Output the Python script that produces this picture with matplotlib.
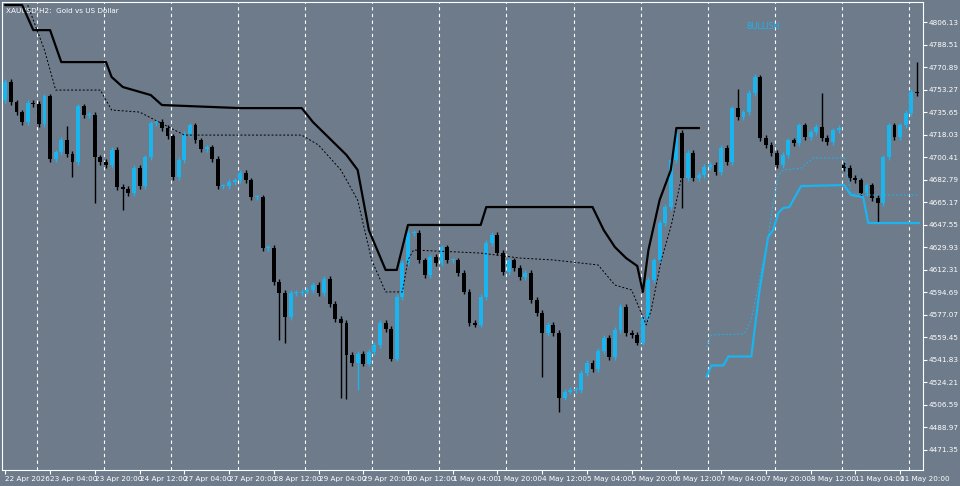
import matplotlib
matplotlib.use("Agg")
import matplotlib.pyplot as plt
import numpy as np

BG = "#6e7b8b"
BLUE = "#1ab4ef"
title = "XAUUSD,H2:  Gold vs US Dollar"

closes = [4759.2,4743.5,4735.7,4727.9,4742.8,4742.0,4726.3,4748.2,4699.0,4704.4,4713.9,4702.9,4696.6,4740.4,4733.4,4733.4,4700.5,4696.6,4694.3,4706.0,
4677.1,4675.5,4672.4,4691.9,4677.8,4700.5,4727.1,4727.9,4723.2,4716.9,4684.9,4698.2,4718.5,4725.5,4713.8,4706.8,4708.3,4699.0,4677.8,4677.8,
4681.0,4682.5,4688.0,4682.5,4669.2,4669.2,4629.4,4629.4,4602.8,4594.2,4575.4,4594.2,4594.2,4595.0,4596.5,4600.4,4594.2,4605.1,4585.6,4573.8,
4570.7,4545.7,4539.4,4546.5,4538.7,4548.0,4553.5,4570.7,4566.0,4542.6,4591.0,4617.6,4641.1,4641.1,4619.9,4608.2,4622.3,4617.6,4630.1,4619.9,
4619.9,4609.8,4595.0,4570.7,4569.2,4591.0,4633.3,4639.5,4625.5,4610.6,4619.9,4613.7,4606.7,4609.8,4588.7,4578.5,4562.9,4569.2,4562.9,4512.1,
4516.8,4518.3,4518.3,4531.6,4539.4,4534.7,4548.8,4559.0,4544.1,4565.2,4583.2,4562.9,4561.3,4555.1,4574.6,4604.3,4619.9,4648.9,4661.4,4698.2,
4719.3,4684.1,4703.7,4684.1,4686.5,4692.7,4694.3,4688.8,4707.6,4696.6,4738.8,4731.8,4735.7,4750.6,4763.1,4715.4,4709.9,4703.7,4694.3,4702.1,
4713.8,4711.5,4725.5,4716.2,4720.1,4724.0,4715.4,4712.3,4721.6,4723.2,4691.9,4684.1,4682.5,4672.4,4678.6,4668.5,4664.5,4700.5,4725.5,4716.2,
4725.5,4735.0,4751.4,4750.6]
open_first = 4745.1
gap_opens = {150: 4694.3}
high_marks = {11: 4724.8, 131: 4753.7, 135: 4764.7, 146: 4750.6, 163: 4774.8}
low_marks = {12: 4684.9, 16: 4664.6, 21: 4659.1, 49: 4557.4, 50: 4555.1, 60: 4512.1,
             61: 4511.3, 63: 4518.3, 96: 4528.5, 99: 4501.1, 121: 4660.6, 156: 4649.7}

up_solid_x = [0,3,5,8,10,18,19,21,26,28,42,53,55,61,63,65,68,70,72,85,86,105,107,109,111,113,114,115,117,119,120,124]
up_solid_y = [4819.4,4819.4,4799.8,4799.8,4774.8,4774.8,4763.1,4755.3,4749.0,4741.2,4738.8,4738.8,4727.9,4702.1,4690.4,4643.4,
              4612.2,4612.2,4647.4,4647.4,4661.4,4661.4,4643.4,4630.1,4621.5,4615.3,4595.0,4627.8,4666.9,4690.4,4723.2,4723.2]
up_dot_x = [4,7,9,17,19,24,32,53,56,60,63,65.5,68,71,72,73,85,92,98,106,109,112,114.6,115.5,117.3,119.1,121]
up_dot_y = [4819.4,4784.2,4752.9,4752.9,4737.3,4735.7,4717.7,4717.7,4709.9,4690.4,4666.9,4620.0,4595.0,4595.0,4620.0,4627.8,
            4625.4,4621.5,4620.0,4616.1,4600.4,4596.5,4569.2,4580.9,4620.0,4647.4,4686.5]
lo_solid_x = [125.4,126.25,128.4,129.3,133.4,134.8,136.4,137.3,138.2,139.1,140.2,142.3,150,151.2,153.4,154.3,163.4]
lo_solid_y = [4528.8,4537.5,4537.5,4544.5,4544.5,4594.2,4637.9,4643.4,4656.7,4660.6,4661.4,4677.8,4678.6,4670.8,4669.2,4648.9,4648.9]
lo_dot_x = [125.4,126.25,132.1,133.4,136.4,137.3,138.2,139.1,142.3,144.5,150,151.2,153.6,156,163.4]
lo_dot_y = [4551.9,4561.3,4562.1,4573.1,4637.9,4664.6,4686.5,4690.4,4691.9,4699.8,4699.8,4672.4,4670.8,4670.8,4670.8]

yticks = [4471.35,4488.97,4506.59,4524.21,4541.83,4559.45,4577.07,4594.69,4612.31,4629.93,4647.55,4665.17,
          4682.79,4700.41,4718.03,4735.65,4753.27,4770.89,4788.51,4806.13]
xlabels = ["22 Apr 2026","23 Apr 04:00","23 Apr 20:00","24 Apr 12:00","27 Apr 04:00","27 Apr 20:00","28 Apr 12:00",
           "29 Apr 04:00","29 Apr 20:00","30 Apr 12:00","1 May 04:00","1 May 20:00","4 May 12:00","5 May 04:00",
           "5 May 20:00","6 May 12:00","7 May 04:00","7 May 20:00","8 May 12:00","11 May 04:00","11 May 20:00"]

FS = 5.2
n = len(closes)
opens = [open_first] + closes[:-1]
for k, v in gap_opens.items():
    opens[k] = v
fig = plt.figure(figsize=(9.6, 4.86), dpi=100, facecolor=BG)
ax = fig.add_axes([2/960, 16/486, 921/960, 468/486], facecolor=BG)
for i in range(n):
    o, c = opens[i], closes[i]
    hi = high_marks.get(i, max(o, c) + 2.0)
    lo = low_marks.get(i, min(o, c) - 2.0)
    col = BLUE if c >= o else "black"
    ax.vlines(i, lo, hi, color=col, lw=1, zorder=3)
    h = max(abs(c - o), 0.8)
    ax.bar(i, h, bottom=min(o, c), width=0.7, color=col, lw=0, zorder=4)
ax.plot(up_solid_x, up_solid_y, color="black", lw=1.6, zorder=5)
ax.plot(up_dot_x, up_dot_y, color="black", lw=0.7, ls=(0, (2, 2)), zorder=5)
ax.plot(lo_solid_x, lo_solid_y, color=BLUE, lw=1.6, zorder=5)
ax.plot(lo_dot_x, lo_dot_y, color=BLUE, lw=0.7, ls=(0, (2, 2)), zorder=5)
for g in range(6, n + 1, 12):
    ax.axvline(g - 0.4, color="white", lw=0.8, ls=(0, (3, 3)), zorder=1)
ax.set_xlim(-0.6, 164.1)
ax.set_ylim(4455.7, 4821.8)
ax.yaxis.tick_right()
ax.set_yticks(yticks)
ax.set_yticklabels([f"{v:.2f}" for v in yticks], fontsize=FS, color="white")
ax.set_xticks(list(range(0, 8 * len(xlabels), 8)))
ax.set_xticklabels(xlabels, fontsize=FS, color="white", ha="left")
ax.tick_params(axis="both", colors="white", length=3, width=0.8, pad=1)
for s in ax.spines.values():
    s.set_color("white")
    s.set_linewidth(0.8)
ax.text(0.004, 0.988, title, transform=ax.transAxes, fontsize=FS, color="white", va="top")
ax.text(132.5, 4803, "BULLISH", fontsize=5.8, color=BLUE, va="center")
fig.savefig("out.png", dpi=100, facecolor=BG)
